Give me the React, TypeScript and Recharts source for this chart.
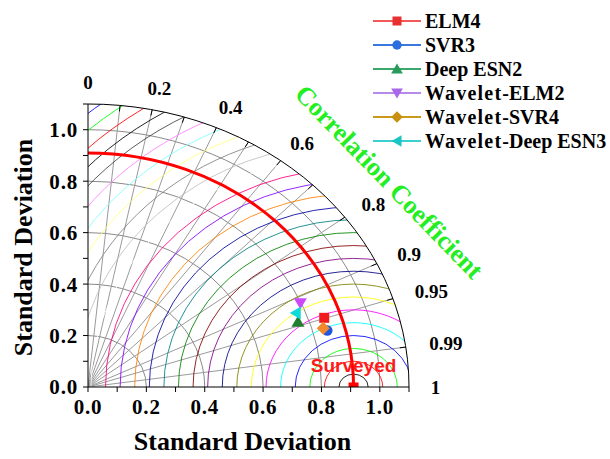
import React from "react";
import { ScatterChart, Scatter, XAxis, YAxis, ReferenceLine, Legend } from "recharts";

// models plotted on the Taylor diagram
const models = ["ELM4", "SVR3", "Deep ESN2", "Wavelet-ELM2", "Wavelet-SVR4", "Wavelet-Deep ESN3"];
const modelStd = [0.853, 0.849, 0.763, 0.797, 0.838, 0.768];
const modelCorr = [0.949, 0.966, 0.943, 0.913, 0.962, 0.927];
const markerShapes = ["square", "circle", "triangle", "triangleDown", "diamond", "triangleLeft"];
const markerColors = ["#f01c1c", "#1f55e0", "#1f7f2f", "#cc48f8", "#f08a2c", "#10dada"];
const legendLineColors = ["#f25a5a", "#3a78e0", "#3aa86a", "#b58ae8", "#c99a1a", "#3ccfcf"];
const legendMarkerColors = ["#e83030", "#2a6ee0", "#2a9a5a", "#a868e8", "#c8920e", "#18c4c4"];

// reference (observed) series
const refStd = 0.91;
const refLabel = "Surveyed";

// grid
const maxStd = 1.1;
const stdTicks = [0, 0.1, 0.2, 0.3, 0.4, 0.5, 0.6, 0.7, 0.8, 0.9, 1.0, 1.1];
const stdCircles = [0.2, 0.4, 0.6, 0.8, 1.0];
const corrLines = [0.1, 0.2, 0.3, 0.4, 0.5, 0.6, 0.7, 0.8, 0.9, 0.95, 0.99];
const corrLabels = [0, 0.2, 0.4, 0.6, 0.8, 0.9, 0.95, 0.99, 1];
const rmsRadii = [
  0.05, 0.1, 0.15, 0.2, 0.25, 0.3, 0.35, 0.4, 0.45, 0.5, 0.55, 0.6, 0.65, 0.7,
  0.75, 0.8, 0.85, 0.9, 0.95, 1.0, 1.05, 1.1, 1.15, 1.2, 1.25, 1.3, 1.35, 1.4,
];
const rmsColors = [
  "#000000", "#ff0000", "#00ff00", "#0000ff", "#00ffff", "#ff00ff", "#ffff00",
  "#808000", "#000080", "#800080", "#800000", "#008000", "#008080", "#0000a0",
  "#ff8000", "#8000ff", "#ff0080", "#ffffff", "#c0c0c0", "#808080", "#ffff80",
  "#80ffff", "#ff80ff", "#404040", "#000000", "#ff0000", "#00ff00", "#0000ff",
];

const serif = "'Liberation Serif', 'Times New Roman', serif";
const sans = "'Liberation Sans', Arial, sans-serif";

const points = models.map((name, i) => [
  {
    x: modelStd[i] * modelCorr[i],
    y: modelStd[i] * Math.sqrt(1 - modelCorr[i] * modelCorr[i]),
  },
]);

function MarkerGlyph({ kind, cx, cy, color, k = 1 }: any) {
  switch (kind) {
    case "square":
      return <rect x={cx - 5 * k} y={cy - 5 * k} width={10 * k} height={10 * k} fill={color} />;
    case "circle":
      return <circle cx={cx} cy={cy} r={5.2 * k} fill={color} />;
    case "triangle":
      return <polygon points={`${cx},${cy - 6 * k} ${cx + 6.5 * k},${cy + 5 * k} ${cx - 6.5 * k},${cy + 5 * k}`} fill={color} />;
    case "triangleDown":
      return <polygon points={`${cx},${cy + 6 * k} ${cx + 6.5 * k},${cy - 5 * k} ${cx - 6.5 * k},${cy - 5 * k}`} fill={color} />;
    case "diamond":
      return <polygon points={`${cx},${cy - 6.5 * k} ${cx + 6.5 * k},${cy} ${cx},${cy + 6.5 * k} ${cx - 6.5 * k},${cy}`} fill={color} />;
    case "triangleLeft":
      return <polygon points={`${cx - 6 * k},${cy} ${cx + 5 * k},${cy - 6.5 * k} ${cx + 5 * k},${cy + 6.5 * k}`} fill={color} />;
    default:
      return null;
  }
}

// draws the polar grid of the Taylor diagram, using the pixel ends of a reference segment
function TaylorGrid(p: any) {
  const ox = p.x1;
  const oy = p.y1;
  const sx = (p.x2 - p.x1) / maxStd;
  const sy = (p.y1 - p.y2) / maxStd;
  const X = (v: number) => ox + v * sx;
  const Y = (v: number) => oy - v * sy;
  const sinOf = (c: number) => Math.sqrt(Math.max(0, 1 - c * c));
  const R = maxStd;

  const clip = `M${ox},${oy} L${X(R)},${oy} A${R * sx},${R * sy} 0 0 0 ${ox},${Y(R)} Z`;

  return (
    <g>
      <defs>
        <clipPath id="taylor-clip">
          <path d={clip} />
        </clipPath>
      </defs>
      <g clipPath="url(#taylor-clip)" fill="none">
        {stdCircles.map((r) => (
          <path key={`s${r}`} d={`M${X(r)},${oy} A${r * sx},${r * sy} 0 0 0 ${ox},${Y(r)}`} stroke="#8a8a8a" strokeWidth={1} />
        ))}
        {corrLines.map((c) => (
          <line key={`c${c}`} x1={ox} y1={oy} x2={X(R * c)} y2={Y(R * sinOf(c))} stroke="#9a9a9a" strokeWidth={1} />
        ))}
        {rmsRadii.map((r, i) => (
          <path
            key={`r${r}`}
            d={`M${X(refStd - r)},${oy} A${r * sx},${r * sy} 0 0 1 ${X(refStd + r)},${oy}`}
            stroke={rmsColors[i]}
            strokeWidth={1}
            strokeOpacity={0.85}
          />
        ))}
      </g>
      <path d={`M${X(R)},${oy} A${R * sx},${R * sy} 0 0 0 ${ox},${Y(R)}`} stroke="#000" fill="none" strokeWidth={1} />
      {corrLines.map((c) => {
        const s = sinOf(c);
        const ex = X(R * c);
        const ey = Y(R * s);
        const len = Math.hypot(c * sx, s * sy);
        return (
          <line key={`t${c}`} x1={ex} y1={ey} x2={ex - (6 * c * sx) / len} y2={ey + (6 * s * sy) / len} stroke="#000" strokeWidth={1} />
        );
      })}
      {corrLabels.map((c) => {
        const s = sinOf(c);
        const txt = String(c);
        const hw = txt.length * 4.6;
        return (
          <text
            key={`l${c}`}
            x={X(R * c) + 22 * c + hw * c}
            y={Y(R * s) - 22 * s}
            textAnchor="middle"
            dominantBaseline="central"
            fontFamily={serif}
            fontWeight="bold"
            fontSize={19}
            fill="#000"
          >
            {txt}
          </text>
        );
      })}
      <path
        d={`M${ox},${Y(refStd)} A${refStd * sx},${refStd * sy} 0 0 1 ${X(refStd)},${oy}`}
        stroke="#ff0000"
        strokeWidth={3}
        fill="none"
      />
      <rect x={X(refStd) - 5} y={oy - 4.5} width={10} height={4.5} fill="#ff0000" />
      <text x={X(refStd)} y={oy - 15} textAnchor="middle" fontFamily={sans} fontWeight="bold" fontSize={19} fill="#ff1a1a">
        {refLabel}
      </text>
      <text
        x={ox + 301}
        y={oy - 205}
        textAnchor="middle"
        dominantBaseline="central"
        transform={`rotate(46 ${ox + 301} ${oy - 205})`}
        fontFamily={serif}
        fontWeight="bold"
        fontSize={26}
        fill="#22ee22"
      >
        Correlation Coefficient
      </text>
      <text x={(ox + X(R)) / 2 - 6} y={oy + 63} textAnchor="middle" fontFamily={serif} fontWeight="bold" fontSize={26} fill="#000">
        Standard Deviation
      </text>
      <text
        x={ox - 65}
        y={(oy + Y(R)) / 2 + 2}
        textAnchor="middle"
        dominantBaseline="central"
        transform={`rotate(-90 ${ox - 65} ${(oy + Y(R)) / 2 + 2})`}
        fontFamily={serif}
        fontWeight="bold"
        fontSize={26}
        fill="#000"
      >
        Standard Deviation
      </text>
    </g>
  );
}

function LegendBox() {
  return (
    <svg width={242} height={150}>
      {models.map((m, i) => {
        const cy = 15 + i * 24;
        const wave = m.startsWith("Wavelet");
        return (
          <g key={m}>
            <line x1={5} x2={53} y1={cy} y2={cy} stroke={legendLineColors[i]} strokeWidth={2} />
            <MarkerGlyph kind={markerShapes[i]} cx={29} cy={cy} color={legendMarkerColors[i]} k={0.9} />
            <text x={57} y={cy + 6.5} fontFamily={serif} fontWeight="bold" fontSize={20} fill="#000">
              {wave ? (
                <>
                  <tspan letterSpacing={1.2}>Wavelet</tspan>
                  <tspan>{m.slice(7)}</tspan>
                </>
              ) : (
                m
              )}
            </text>
          </g>
        );
      })}
    </svg>
  );
}

const tickStyle = { fontSize: 21, fontWeight: "bold", fontFamily: serif, fill: "#000", letterSpacing: 0.8 };
const fmt = (v: number) => {
  const t = Math.round(v * 10);
  return t % 2 === 0 && t <= 10 ? v.toFixed(1) : "";
};

export default function App() {
  return (
    <div style={{ position: "absolute", left: 0, top: 0, background: "#fff" }}>
      <ScatterChart width={610} height={459} margin={{ top: 104, right: 201, bottom: 42, left: 38 }}>
        <XAxis
          type="number"
          dataKey="x"
          domain={[0, maxStd]}
          ticks={stdTicks}
          tickFormatter={fmt}
          tick={tickStyle}
          tickSize={5}
          tickMargin={7}
          height={30}
          interval={0}
          allowDataOverflow
          stroke="#000"
        />
        <YAxis
          type="number"
          dataKey="y"
          domain={[0, maxStd]}
          ticks={stdTicks}
          tickFormatter={fmt}
          tick={tickStyle}
          tickSize={5}
          tickMargin={5}
          width={50}
          interval={0}
          allowDataOverflow
          stroke="#000"
        />
        <ReferenceLine
          segment={[{ x: 0, y: 0 }, { x: maxStd, y: maxStd }]}
          ifOverflow="visible"
          shape={(p: any) => <TaylorGrid {...p} />}
        />
        {models.map((m, i) => (
          <Scatter
            key={m}
            name={m}
            data={points[i]}
            fill={markerColors[i]}
            isAnimationActive={false}
            shape={(p: any) => <MarkerGlyph kind={markerShapes[i]} cx={p.cx} cy={p.cy} color={markerColors[i]} />}
          />
        ))}
        <Legend
          layout="horizontal"
          align="center"
          verticalAlign="middle"
          wrapperStyle={{ left: 368, top: 6, width: 242, height: 150 }}
          content={() => <LegendBox />}
        />
      </ScatterChart>
    </div>
  );
}
